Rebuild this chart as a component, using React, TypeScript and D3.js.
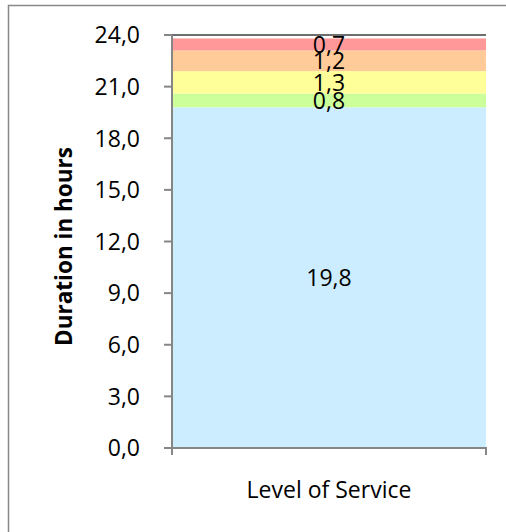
import React from "react";
import * as d3 from "d3";

// Stacked duration per service level (hours)
const categories = ["Level of Service"];
const segmentNames = ["LOS A", "LOS B", "LOS C", "LOS D", "LOS E"];
const segmentValues = [19.8, 0.8, 1.3, 1.2, 0.7];
const segmentColors = ["#CCECFF", "#CCFF99", "#FFFF99", "#FFCC99", "#FF9999"];
const yTicks = [0, 3, 6, 9, 12, 15, 18, 21, 24];

const W = 506;
const H = 532;
const plot = { left: 172, right: 486, top: 35, bottom: 448 };
const FONT = "'Open Sans', 'Liberation Sans', sans-serif";
const AXIS = "#868686";

const fmt = (v: number) => v.toFixed(1).replace(".", ",");

export default function App() {
  const y = d3.scaleLinear().domain([0, 24]).range([plot.bottom, plot.top]);
  const x = d3
    .scaleBand()
    .domain(categories)
    .range([plot.left, plot.right])
    .paddingInner(0)
    .paddingOuter(0);

  const stackInput = [
    Object.fromEntries(segmentNames.map((n, i) => [n, segmentValues[i]])),
  ];
  const series = d3.stack<any>().keys(segmentNames)(stackInput);

  const bx = x(categories[0]) ?? plot.left;
  const bw = x.bandwidth();
  const cx = bx + bw / 2;

  return (
    <svg
      width={W}
      height={H}
      style={{ position: "fixed", left: 0, top: 0, background: "#fff" }}
      fontFamily={FONT}
    >
      {/* chart frame */}
      <path d={`M8.5,${H + 2} V5.5 H${W + 2}`} fill="none" stroke="#888" strokeWidth={1.5} />

      {/* top gridline */}
      <line x1={plot.left - 8} x2={plot.right} y1={y(24)} y2={y(24)} stroke="#6e6e6e" strokeWidth={2} />

      {/* stacked segments */}
      {series.map((s, i) => {
        const [y0, y1] = s[0];
        return (
          <rect
            key={s.key}
            x={bx}
            width={bw}
            y={y(y1)}
            height={y(y0) - y(y1)}
            fill={segmentColors[i]}
          />
        );
      })}

      {/* y axis */}
      <line x1={plot.left} x2={plot.left} y1={plot.top} y2={plot.bottom + 1} stroke={AXIS} strokeWidth={2} />
      {yTicks.map((t) => (
        <g key={t}>
          <line x1={plot.left - 8} x2={plot.left} y1={y(t)} y2={y(t)} stroke={AXIS} strokeWidth={2} />
          <text
            x={140}
            y={y(t)}
            dy="0.36em"
            textAnchor="end"
            fontSize={23}
            fill="#000"
          >
            {fmt(t)}
          </text>
        </g>
      ))}

      {/* x axis */}
      <line x1={plot.left - 1} x2={plot.right + 1} y1={plot.bottom} y2={plot.bottom} stroke={AXIS} strokeWidth={2} />
      <line x1={plot.left} x2={plot.left} y1={plot.bottom} y2={plot.bottom + 7} stroke={AXIS} strokeWidth={2} />
      <line x1={plot.right} x2={plot.right} y1={plot.bottom} y2={plot.bottom + 7} stroke={AXIS} strokeWidth={2} />

      {/* segment value labels */}
      {series.map((s) => {
        const [y0, y1] = s[0];
        const v = y1 - y0;
        return (
          <text
            key={`l-${s.key}`}
            x={cx}
            y={(y(y0) + y(y1)) / 2}
            dy="0.36em"
            textAnchor="middle"
            fontSize={23}
            fill="#000"
          >
            {fmt(v)}
          </text>
        );
      })}

      {/* axis titles */}
      <text x={cx} y={498} textAnchor="middle" fontSize={23} fill="#000">
        {categories[0]}
      </text>
      <text
        transform={`translate(72,${(plot.top + plot.bottom) / 2 + 5}) rotate(-90)`}
        textAnchor="middle"
        fontSize={22.5}
        fontWeight="bold"
        fill="#000"
      >
        Duration in hours
      </text>
    </svg>
  );
}
